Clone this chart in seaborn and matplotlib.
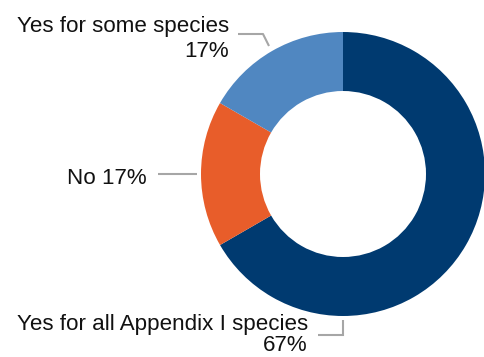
import matplotlib
matplotlib.use("Agg")
import matplotlib.pyplot as plt
import seaborn as sns

# Survey responses (share of respondents)
categories = ["Yes for all Appendix I species", "No", "Yes for some species"]
values = [66.67, 16.67, 16.67]
pct_labels = ["67%", "17%", "17%"]

sns.set_style("white")
plt.rcParams["font.family"] = ["Liberation Sans", "DejaVu Sans"]

colors = sns.color_palette(["#003A70", "#E85D2A", "#5087C1"])

W, H = 485, 357
fig = plt.figure(figsize=(W / 100, H / 100), dpi=100)
ax = fig.add_axes([0, 0, 1, 1])

cx, cy = 343, 174
r_out, r_in = 142, 83


def Y(y):
    return H - y


ax.pie(values, colors=colors, startangle=90, counterclock=False,
       center=(cx, Y(cy)), radius=r_out,
       wedgeprops=dict(width=r_out - r_in, linewidth=0, edgecolor="none"))
ax.set_xlim(0, W)
ax.set_ylim(0, H)
ax.set_aspect("auto")
ax.axis("off")

fs = 16.1
txt = "#111111"
line_c = "#A6A6A6"
lw = 1.5

# Yes for some species
ax.text(229, Y(32), categories[2], ha="right", va="baseline", fontsize=fs, color=txt)
ax.text(229, Y(57), pct_labels[2], ha="right", va="baseline", fontsize=fs, color=txt)
ax.plot([238, 263, 269], [Y(34), Y(34), Y(46)], color=line_c, lw=lw, solid_capstyle="butt")

# No
ax.text(147, Y(175.5), f"{categories[1]} {pct_labels[1]}", ha="right", va="center_baseline",
        fontsize=fs, color=txt)
ax.plot([158, 197], [Y(173.5), Y(173.5)], color=line_c, lw=lw, solid_capstyle="butt")

# Yes for all Appendix I species
ax.text(308, Y(330), categories[0], ha="right", va="baseline", fontsize=fs, color=txt)
ax.text(308, Y(351), pct_labels[0], ha="right", va="baseline", fontsize=fs, color=txt)
ax.plot([318, 343.5, 343.5], [Y(334.5), Y(334.5), Y(320)], color=line_c, lw=lw,
        solid_joinstyle="miter", solid_capstyle="butt")

fig.savefig("out.png", dpi=100)
